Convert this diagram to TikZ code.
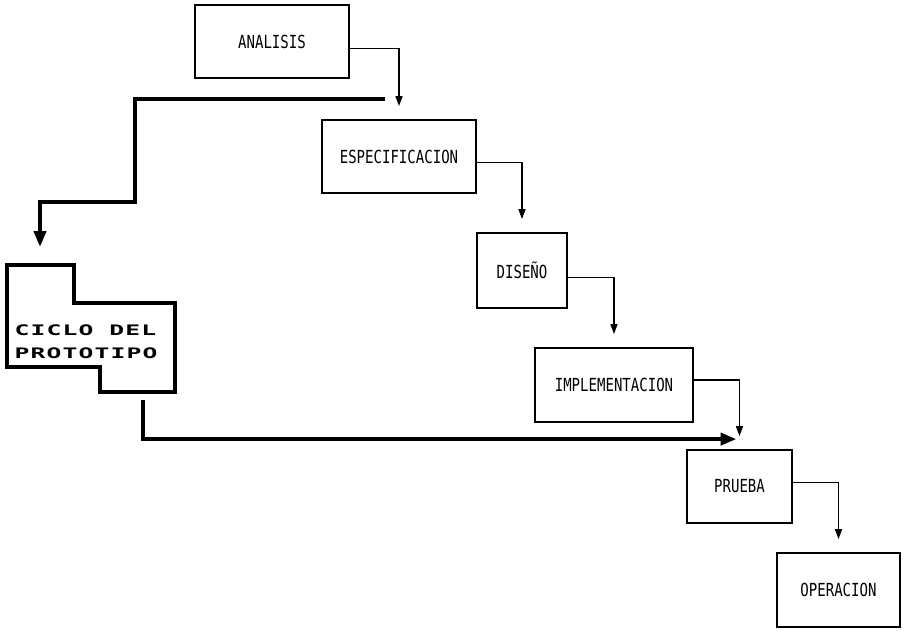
\documentclass[tikz,border=0pt]{standalone}
\usepackage{fontspec}
\usetikzlibrary{arrows.meta}
\newfontfamily\stagefont[FakeStretch=0.78]{DejaVu Sans Mono}
\newfontfamily\protofont[FakeStretch=1.7,LetterSpace=8]{DejaVu Sans Mono}
\tikzset{
    stage/.style={
        draw,
        line width=1.8pt,
        inner sep=0pt,
        font=\stagefont\fontsize{18}{20}\selectfont
    },
    link/.style={line width=1.3pt, -{Triangle[length=10pt,width=7pt]}},
    heavy link/.style={line width=4.5pt, line join=miter, -{Triangle[length=16pt,width=12pt]}}
}
\begin{document}
\begin{tikzpicture}[x=1pt,y=-1pt]
\useasboundingbox (0,0) rectangle (905,630);
% stages of the cycle
\node[stage, minimum width=154pt, minimum height=73pt] (ana) at (272,41.5) {ANALISIS};
\node[stage, minimum width=154pt, minimum height=73pt] (esp) at (399,156.5) {ESPECIFICACION};
\node[stage, minimum width=90pt, minimum height=75pt] (dis) at (522,270.5) {DISEÑO};
\node[stage, minimum width=158pt, minimum height=74pt] (imp) at (614,385) {IMPLEMENTACION};
\node[stage, minimum width=105pt, minimum height=73pt] (pru) at (739.5,486.5) {PRUEBA};
\node[stage, minimum width=123pt, minimum height=74pt] (ope) at (838.5,590) {OPERACION};
\foreach \a/\b/\s in {ana/esp/-7, esp/dis/-6, dis/imp/-7, imp/pru/5, pru/ope/4}
    \draw[link] ([yshift=\s pt]\a.east) -| ([yshift=13pt]\b.north);
% prototype loop
\draw[line width=4.5pt, line join=miter]
    (7,265) -- (74,265) -- (74,303) -- (175,303) -- (175,392)
    -- (100,392) -- (100,367) -- (7,367) -- cycle;
\node[align=left, inner sep=0pt, font=\protofont\bfseries\fontsize{14.5}{23}\selectfont] (proto) at (86,341.5) {CICLO DEL\\PROTOTIPO};
\coordinate (feed) at (385,99);
\coordinate (into) at (40,247);
\coordinate (back) at (143,400);
\draw[heavy link] (feed) -- (135,99) -- (135,202) -| (into);
\draw[heavy link] (back) |- ([xshift=-3pt,yshift=10pt]pru.north);
\end{tikzpicture}
\end{document}
